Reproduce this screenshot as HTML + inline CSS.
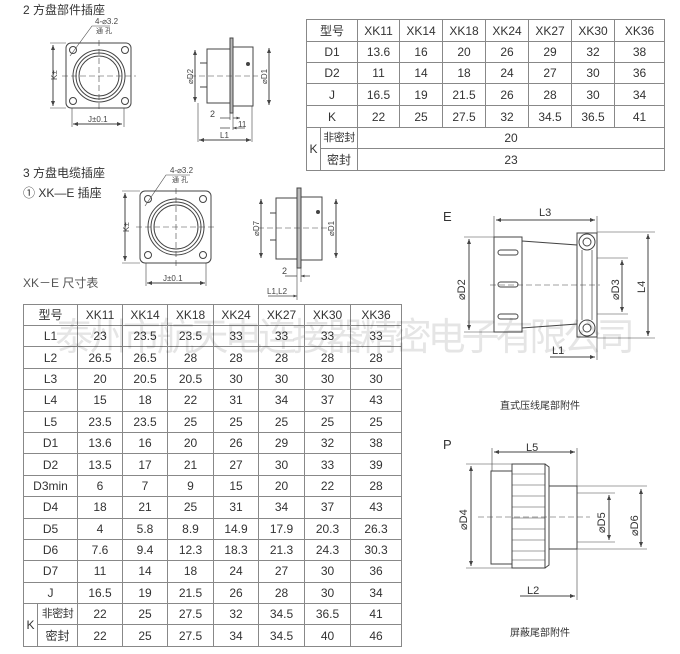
<!DOCTYPE html>
<html><head><meta charset="utf-8"><style>
html,body{margin:0;padding:0;background:#fff;}
body{width:680px;height:654px;position:relative;overflow:hidden;font-family:"Liberation Sans","Noto Sans CJK SC",sans-serif;color:#333;}
svg{position:absolute;left:0;top:0;}
table{position:absolute;border-collapse:collapse;table-layout:fixed;font-size:12px;color:#333;}
td{border:1px solid #888;text-align:center;padding:0;white-space:nowrap;overflow:hidden;line-height:14px;}
td.s{font-size:11px;letter-spacing:-0.5px;}
.t{position:absolute;font-size:12px;color:#333;white-space:nowrap;}
</style></head><body>
<div class="t" style="left:23px;top:1px;">2 方盘部件插座</div>
<div class="t" style="left:23px;top:164px;">3 方盘电缆插座</div>
<div class="t" style="left:23px;top:184px;">① XK—E 插座</div>
<div class="t" style="left:23px;top:274px;color:#555;">XK－E 尺寸表</div>

<table style="left:306px;top:19px;width:358px;">
<colgroup><col style="width:14px"><col style="width:37px"><col style="width:42px"><col style="width:43px"><col style="width:43px"><col style="width:43px"><col style="width:43px"><col style="width:43px"><col style="width:50px"></colgroup>
<tr style="height:22px"><td colspan="2">型号</td><td>XK11</td><td>XK14</td><td>XK18</td><td>XK24</td><td>XK27</td><td>XK30</td><td>XK36</td></tr>
<tr style="height:21px"><td colspan="2">D1</td><td>13.6</td><td>16</td><td>20</td><td>26</td><td>29</td><td>32</td><td>38</td></tr>
<tr style="height:21px"><td colspan="2">D2</td><td>11</td><td>14</td><td>18</td><td>24</td><td>27</td><td>30</td><td>36</td></tr>
<tr style="height:22px"><td colspan="2">J</td><td>16.5</td><td>19</td><td>21.5</td><td>26</td><td>28</td><td>30</td><td>34</td></tr>
<tr style="height:22px"><td colspan="2">K</td><td>22</td><td>25</td><td>27.5</td><td>32</td><td>34.5</td><td>36.5</td><td>41</td></tr>
<tr style="height:21px"><td rowspan="2">K</td><td class="s">非密封</td><td colspan="7">20</td></tr>
<tr style="height:22px"><td>密封</td><td colspan="7">23</td></tr>
</table>

<table style="left:23px;top:304px;width:378px;">
<colgroup><col style="width:14px"><col style="width:40px"><col style="width:45px"><col style="width:45px"><col style="width:46px"><col style="width:45px"><col style="width:46px"><col style="width:46px"><col style="width:51px"></colgroup>
<tr style="height:21px"><td colspan="2">型号</td><td>XK11</td><td>XK14</td><td>XK18</td><td>XK24</td><td>XK27</td><td>XK30</td><td>XK36</td></tr>
<tr style="height:21.4px"><td colspan="2">L1</td><td>23</td><td>23.5</td><td>23.5</td><td>33</td><td>33</td><td>33</td><td>33</td></tr>
<tr style="height:21.4px"><td colspan="2">L2</td><td>26.5</td><td>26.5</td><td>28</td><td>28</td><td>28</td><td>28</td><td>28</td></tr>
<tr style="height:21.4px"><td colspan="2">L3</td><td>20</td><td>20.5</td><td>20.5</td><td>30</td><td>30</td><td>30</td><td>30</td></tr>
<tr style="height:21.4px"><td colspan="2">L4</td><td>15</td><td>18</td><td>22</td><td>31</td><td>34</td><td>37</td><td>43</td></tr>
<tr style="height:21.4px"><td colspan="2">L5</td><td>23.5</td><td>23.5</td><td>25</td><td>25</td><td>25</td><td>25</td><td>25</td></tr>
<tr style="height:21.4px"><td colspan="2">D1</td><td>13.6</td><td>16</td><td>20</td><td>26</td><td>29</td><td>32</td><td>38</td></tr>
<tr style="height:21.4px"><td colspan="2">D2</td><td>13.5</td><td>17</td><td>21</td><td>27</td><td>30</td><td>33</td><td>39</td></tr>
<tr style="height:21.4px"><td colspan="2">D3min</td><td>6</td><td>7</td><td>9</td><td>15</td><td>20</td><td>22</td><td>28</td></tr>
<tr style="height:21.4px"><td colspan="2">D4</td><td>18</td><td>21</td><td>25</td><td>31</td><td>34</td><td>37</td><td>43</td></tr>
<tr style="height:21.4px"><td colspan="2">D5</td><td>4</td><td>5.8</td><td>8.9</td><td>14.9</td><td>17.9</td><td>20.3</td><td>26.3</td></tr>
<tr style="height:21.4px"><td colspan="2">D6</td><td>7.6</td><td>9.4</td><td>12.3</td><td>18.3</td><td>21.3</td><td>24.3</td><td>30.3</td></tr>
<tr style="height:21.4px"><td colspan="2">D7</td><td>11</td><td>14</td><td>18</td><td>24</td><td>27</td><td>30</td><td>36</td></tr>
<tr style="height:21.4px"><td colspan="2">J</td><td>16.5</td><td>19</td><td>21.5</td><td>26</td><td>28</td><td>30</td><td>34</td></tr>
<tr style="height:21.4px"><td rowspan="2">K</td><td class="s">非密封</td><td>22</td><td>25</td><td>27.5</td><td>32</td><td>34.5</td><td>36.5</td><td>41</td></tr>
<tr style="height:21.4px"><td>密封</td><td>22</td><td>25</td><td>27.5</td><td>34</td><td>34.5</td><td>40</td><td>46</td></tr>
</table>

<svg width="680" height="654" viewBox="0 0 680 654" font-family="Liberation Sans, Noto Sans CJK SC, sans-serif" fill="none" stroke="#444" stroke-width="1">
<defs><marker id="a" markerWidth="6" markerHeight="6" refX="5" refY="3" orient="auto-start-reverse"><path d="M0,1 L5,3 L0,5z" fill="#444" stroke="none"/></marker></defs>
<g>
<rect x="66" y="43" width="65" height="65" rx="5"/>
<circle cx="99" cy="76" r="26"/><circle cx="99" cy="76" r="23"/><circle cx="99" cy="76" r="20"/>
<circle cx="73" cy="50" r="3.5"/><circle cx="125" cy="50" r="3.5"/><circle cx="73" cy="101" r="3.5"/><circle cx="125" cy="101" r="3.5"/>
<path d="M99,40 V112 M62,76 H136" stroke-dasharray="6,3" stroke-width="0.6"/>
<path d="M53,45 V106" marker-start="url(#a)" marker-end="url(#a)"/>
<path d="M50,43 H66 M50,108 H66" stroke-width="0.6"/>
<path d="M73,124 H122" marker-start="url(#a)" marker-end="url(#a)"/>
<path d="M72,108 V127 M124,108 V127" stroke-width="0.6"/>
<path d="M70,56 L92,26 H110" stroke-width="0.6"/>
</g>
<text x="95" y="24" font-size="8" fill="#444" stroke="none">4-⌀3.2</text>
<text x="96" y="33" font-size="7" fill="#444" stroke="none">通 孔</text>
<text x="57" y="80" font-size="8" fill="#444" stroke="none" transform="rotate(-90 57 80)">K±</text>
<text x="88" y="122" font-size="8" fill="#444" stroke="none">J±0.1</text>
<g>
<rect x="207" y="49" width="23" height="54"/>
<rect x="230" y="38" width="3" height="75" fill="#bbb"/>
<rect x="233" y="47" width="20" height="59"/>
<path d="M200,63 h7 M200,87 h7" />
<circle cx="248" cy="64" r="1.5" fill="#444"/>
<path d="M190,76 H258" stroke-dasharray="6,3" stroke-width="0.6"/>
<path d="M195,50 V102" marker-start="url(#a)" marker-end="url(#a)"/>
<path d="M269,48 V105" marker-start="url(#a)" marker-end="url(#a)"/>
<path d="M198,103 V142 M252,106 V142 M230,113 V120 M233,113 V130" stroke-width="0.6"/>
<path d="M220,118 H230 M233,118 H240" marker-end="url(#a)" stroke-width="0.7"/>
<path d="M220,128 H230 M245,128 H233" marker-end="url(#a)" stroke-width="0.7"/>
<path d="M199,140 H251" marker-start="url(#a)" marker-end="url(#a)"/>
</g>
<text x="210" y="117" font-size="9" fill="#444" stroke="none">2</text>
<text x="238" y="127" font-size="8" fill="#444" stroke="none">11</text>
<text x="220" y="138" font-size="8" fill="#444" stroke="none">L1</text>
<text x="193" y="84" font-size="8" fill="#444" stroke="none" transform="rotate(-90 193 84)">⌀D2</text>
<text x="267" y="84" font-size="8" fill="#444" stroke="none" transform="rotate(-90 267 84)">⌀D1</text>
<g>
<rect x="140" y="191" width="71" height="72" rx="5"/>
<circle cx="176" cy="227" r="28"/><circle cx="176" cy="227" r="25"/><circle cx="176" cy="227" r="22"/>
<circle cx="148" cy="199" r="3.5"/><circle cx="203" cy="199" r="3.5"/><circle cx="148" cy="255" r="3.5"/><circle cx="203" cy="255" r="3.5"/>
<path d="M176,188 V268 M136,227 H216" stroke-dasharray="6,3" stroke-width="0.6"/>
<path d="M125,193 V261" marker-start="url(#a)" marker-end="url(#a)"/>
<path d="M122,191 H140 M122,263 H140" stroke-width="0.6"/>
<path d="M147,283 H205" marker-start="url(#a)" marker-end="url(#a)"/>
<path d="M146,263 V286 M206,263 V286" stroke-width="0.6"/>
<path d="M145,206 L166,175 H190" stroke-width="0.6"/>
</g>
<text x="170" y="173" font-size="8" fill="#444" stroke="none">4-⌀3.2</text>
<text x="172" y="182" font-size="7" fill="#444" stroke="none">通 孔</text>
<text x="129" y="232" font-size="8" fill="#444" stroke="none" transform="rotate(-90 129 232)">K±</text>
<text x="163" y="281" font-size="8" fill="#444" stroke="none">J±0.1</text>
<g>
<rect x="276" y="198" width="21" height="61"/>
<rect x="297" y="188" width="4" height="80" fill="#bbb"/>
<rect x="301" y="197" width="21" height="63"/>
<path d="M270,213 h6 M270,240 h6"/>
<circle cx="318" cy="212" r="1.5" fill="#444"/>
<path d="M258,228 H328" stroke-dasharray="6,3" stroke-width="0.6"/>
<path d="M261,199 V258" marker-start="url(#a)" marker-end="url(#a)"/>
<path d="M336,199 V258" marker-start="url(#a)" marker-end="url(#a)"/>
<path d="M297,268 V300 M301,268 V282" stroke-width="0.6"/>
<path d="M285,276 H297 M310,276 H301" marker-end="url(#a)" stroke-width="0.7"/>
<path d="M268,296 H297" marker-end="url(#a)" stroke-width="0.7"/>
</g>
<text x="282" y="274" font-size="9" fill="#444" stroke="none">2</text>
<text x="267" y="294" font-size="8" fill="#444" stroke="none">L1,L2</text>
<text x="259" y="236" font-size="8" fill="#444" stroke="none" transform="rotate(-90 259 236)">⌀D7</text>
<text x="334" y="236" font-size="8" fill="#444" stroke="none" transform="rotate(-90 334 236)">⌀D1</text>
<g>
<rect x="494" y="237" width="28" height="95"/>
<path d="M522,241 L577,245 V324 L522,328 Z"/>
<path d="M577,233 H597 V337 H577 Z"/>
<path d="M582,250 V320 M592,250 V320" stroke-width="0.7"/>
<circle cx="587" cy="242" r="8" fill="#fff"/><circle cx="587" cy="242" r="4"/>
<circle cx="587" cy="328" r="8" fill="#fff"/><circle cx="587" cy="328" r="4"/>
<rect x="498" y="250" width="20" height="5" rx="2.5"/><rect x="498" y="282" width="20" height="5" rx="2.5"/><rect x="498" y="314" width="20" height="5" rx="2.5"/>
<path d="M490,285 H600" stroke-dasharray="6,3" stroke-width="0.6"/>
<path d="M496,220 H595" marker-start="url(#a)" marker-end="url(#a)"/>
<path d="M494,216 V237 M597,216 V233" stroke-width="0.6"/>
<path d="M469,239 V330" marker-start="url(#a)" marker-end="url(#a)"/>
<path d="M464,237 H494 M464,332 H494" stroke-width="0.6"/>
<path d="M622,260 V312" marker-start="url(#a)" marker-end="url(#a)"/>
<path d="M597,258 H628 M597,314 H628" stroke-width="0.6"/>
<path d="M648,234 V336" marker-start="url(#a)" marker-end="url(#a)"/>
<path d="M597,232 H655 M597,338 H655" stroke-width="0.6"/>
<path d="M550,357 H595" marker-end="url(#a)"/>
<path d="M597,337 V360" stroke-width="0.6"/>
</g>
<text x="443" y="221" font-size="13" fill="#333" stroke="none">E</text>
<text x="539" y="216" font-size="11" fill="#333" stroke="none">L3</text>
<text x="552" y="354" font-size="11" fill="#333" stroke="none">L1</text>
<text x="465" y="300" font-size="11" fill="#333" stroke="none" transform="rotate(-90 465 300)">⌀D2</text>
<text x="619" y="300" font-size="11" fill="#333" stroke="none" transform="rotate(-90 619 300)">⌀D3</text>
<text x="645" y="293" font-size="11" fill="#333" stroke="none" transform="rotate(-90 645 293)">L4</text>
<text x="500" y="409" font-size="10" fill="#333" stroke="none">直式压线尾部附件</text>
<g>
<rect x="491" y="471" width="21" height="93"/>
<rect x="512" y="464" width="33" height="104"/>
<path d="M545,464 L549,467 V565 L545,568"/>
<path d="M512,474 H545 M512,485 H545 M512,496 H545 M512,507 H545 M512,518 H545 M512,529 H545 M512,540 H545 M512,551 H545 M512,560 H545" stroke-width="0.6"/>
<rect x="549" y="486" width="28" height="63"/>
<path d="M478,517 H590" stroke-dasharray="6,3" stroke-width="0.6"/>
<path d="M494,452 H575" marker-start="url(#a)" marker-end="url(#a)"/>
<path d="M492,448 V471 M577,448 V600" stroke-width="0.6"/>
<path d="M471,466 V566" marker-start="url(#a)" marker-end="url(#a)"/>
<path d="M466,464 H512 M466,568 H545" stroke-width="0.6"/>
<path d="M609,495 V540" marker-start="url(#a)" marker-end="url(#a)"/>
<path d="M577,493 H615 M577,542 H615" stroke-width="0.6"/>
<path d="M641,489 V547" marker-start="url(#a)" marker-end="url(#a)"/>
<path d="M577,486 H647 M577,549 H647" stroke-width="0.6"/>
<path d="M520,596 H575" marker-end="url(#a)"/>
</g>
<text x="443" y="449" font-size="13" fill="#333" stroke="none">P</text>
<text x="526" y="451" font-size="11" fill="#333" stroke="none">L5</text>
<text x="527" y="594" font-size="11" fill="#333" stroke="none">L2</text>
<text x="467" y="530" font-size="11" fill="#333" stroke="none" transform="rotate(-90 467 530)">⌀D4</text>
<text x="605" y="533" font-size="11" fill="#333" stroke="none" transform="rotate(-90 605 533)">⌀D5</text>
<text x="638" y="536" font-size="11" fill="#333" stroke="none" transform="rotate(-90 638 536)">⌀D6</text>
<text x="510" y="636" font-size="10" fill="#333" stroke="none">屏蔽尾部附件</text>
<text x="55" y="350" font-size="38" fill="#000" fill-opacity="0.1" stroke="none" textLength="580">泰州市航天电连接器精密电子有限公司</text>
</svg>
</body></html>
